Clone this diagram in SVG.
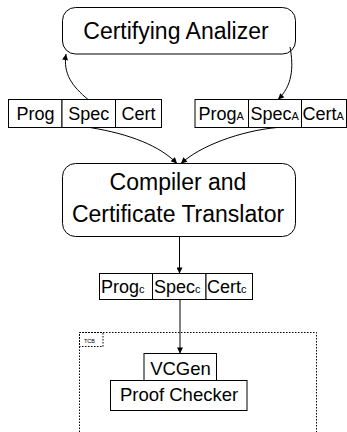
<svg xmlns="http://www.w3.org/2000/svg" width="347" height="432" viewBox="0 0 347 432">
<style>
text{font-family:"Liberation Sans",Arial,sans-serif;fill:#000}
.big{font-size:23px;text-anchor:middle}
.rec{font-size:18px}
.sub{font-size:11px}
.box{fill:#fff;stroke:#000;stroke-width:1}
.cell{fill:#fff;stroke:#000;stroke-width:1}
.edge{fill:none;stroke:#000;stroke-width:1}
.dot{fill:none;stroke:#000;stroke-width:1;stroke-dasharray:1.5 1.5}
</style>
<defs>
<marker id="ah" viewBox="0 0 10 10" refX="10" refY="5" markerWidth="6.5" markerHeight="6" markerUnits="userSpaceOnUse" orient="auto">
<path d="M0,0 L10,5 L0,10 z" fill="#000"/>
</marker>
</defs>
<g id="tcb">
<path class="dot" d="M79.5,432 V332.5 H316.5 V432"/>
<rect class="dot" x="79.5" y="332.5" width="23.5" height="14"/>
<text x="84" y="343" style="font-size:5.5px">TCB</text>
</g>
<g id="analyzer">
<rect class="box" x="62.5" y="7.5" width="233" height="46.5" rx="13"/>
<text class="big" x="176" y="39">Certifying Analizer</text>
</g>
<g id="input">
<rect class="cell" x="8.5" y="99.5" width="53.5" height="28"/>
<rect class="cell" x="62" y="99.5" width="53.5" height="28"/>
<rect class="cell" x="115.5" y="99.5" width="46" height="28"/>
<text class="rec" x="35.5" y="120" text-anchor="middle">Prog</text>
<text class="rec" x="88.8" y="120" text-anchor="middle">Spec</text>
<text class="rec" x="138.5" y="120" text-anchor="middle">Cert</text>
</g>
<g id="analyzed">
<rect class="cell" x="195" y="99.5" width="53.5" height="28"/>
<rect class="cell" x="248.5" y="99.5" width="53" height="28"/>
<rect class="cell" x="301.5" y="99.5" width="45" height="28"/>
<text class="rec" x="198.5" y="120">Prog<tspan class="sub">A</tspan></text>
<text class="rec" x="250.5" y="120">Spec<tspan class="sub">A</tspan></text>
<text class="rec" x="302.5" y="120">Cert<tspan class="sub">A</tspan></text>
</g>
<g id="compiler">
<rect class="box" x="62.5" y="163.5" width="233" height="73" rx="13"/>
<text class="big" x="178" y="189.5">Compiler and</text>
<text class="big" x="178" y="221.5">Certificate Translator</text>
</g>
<g id="compiled">
<rect class="cell" x="99.5" y="273.5" width="53" height="26"/>
<rect class="cell" x="152.5" y="273.5" width="53.5" height="26"/>
<rect class="cell" x="206" y="273.5" width="46.5" height="26"/>
<text class="rec" x="101" y="292.5">Prog<tspan class="sub">c</tspan></text>
<text class="rec" x="154" y="292.5">Spec<tspan class="sub">c</tspan></text>
<text class="rec" x="207" y="292.5">Cert<tspan class="sub">c</tspan></text>
</g>
<g id="vcgen">
<rect class="box" x="144" y="353.5" width="72.5" height="27"/>
<text x="180.5" y="375" style="font-size:18.5px;text-anchor:middle">VCGen</text>
</g>
<g id="checker">
<rect class="box" x="110.5" y="380.5" width="136.5" height="30"/>
<text x="179" y="400.5" style="font-size:18.5px;text-anchor:middle">Proof Checker</text>
</g>
<g id="connectors">
<path class="edge" d="M88,99.5 C72,86 63,74 66,54" marker-end="url(#ah)"/>
<path class="edge" d="M290,47 C294,68 292,86 278,99.5" marker-end="url(#ah)"/>
<path class="edge" d="M90,127.5 C130,134 160,146 177,163.5" marker-end="url(#ah)"/>
<path class="edge" d="M277,127.5 C240,131 200,146 181,163.5" marker-end="url(#ah)"/>
<path class="edge" d="M179.5,236.5 V273.5" marker-end="url(#ah)"/>
<path class="edge" d="M180,299.5 V353.5" marker-end="url(#ah)"/>
</g>
</svg>
